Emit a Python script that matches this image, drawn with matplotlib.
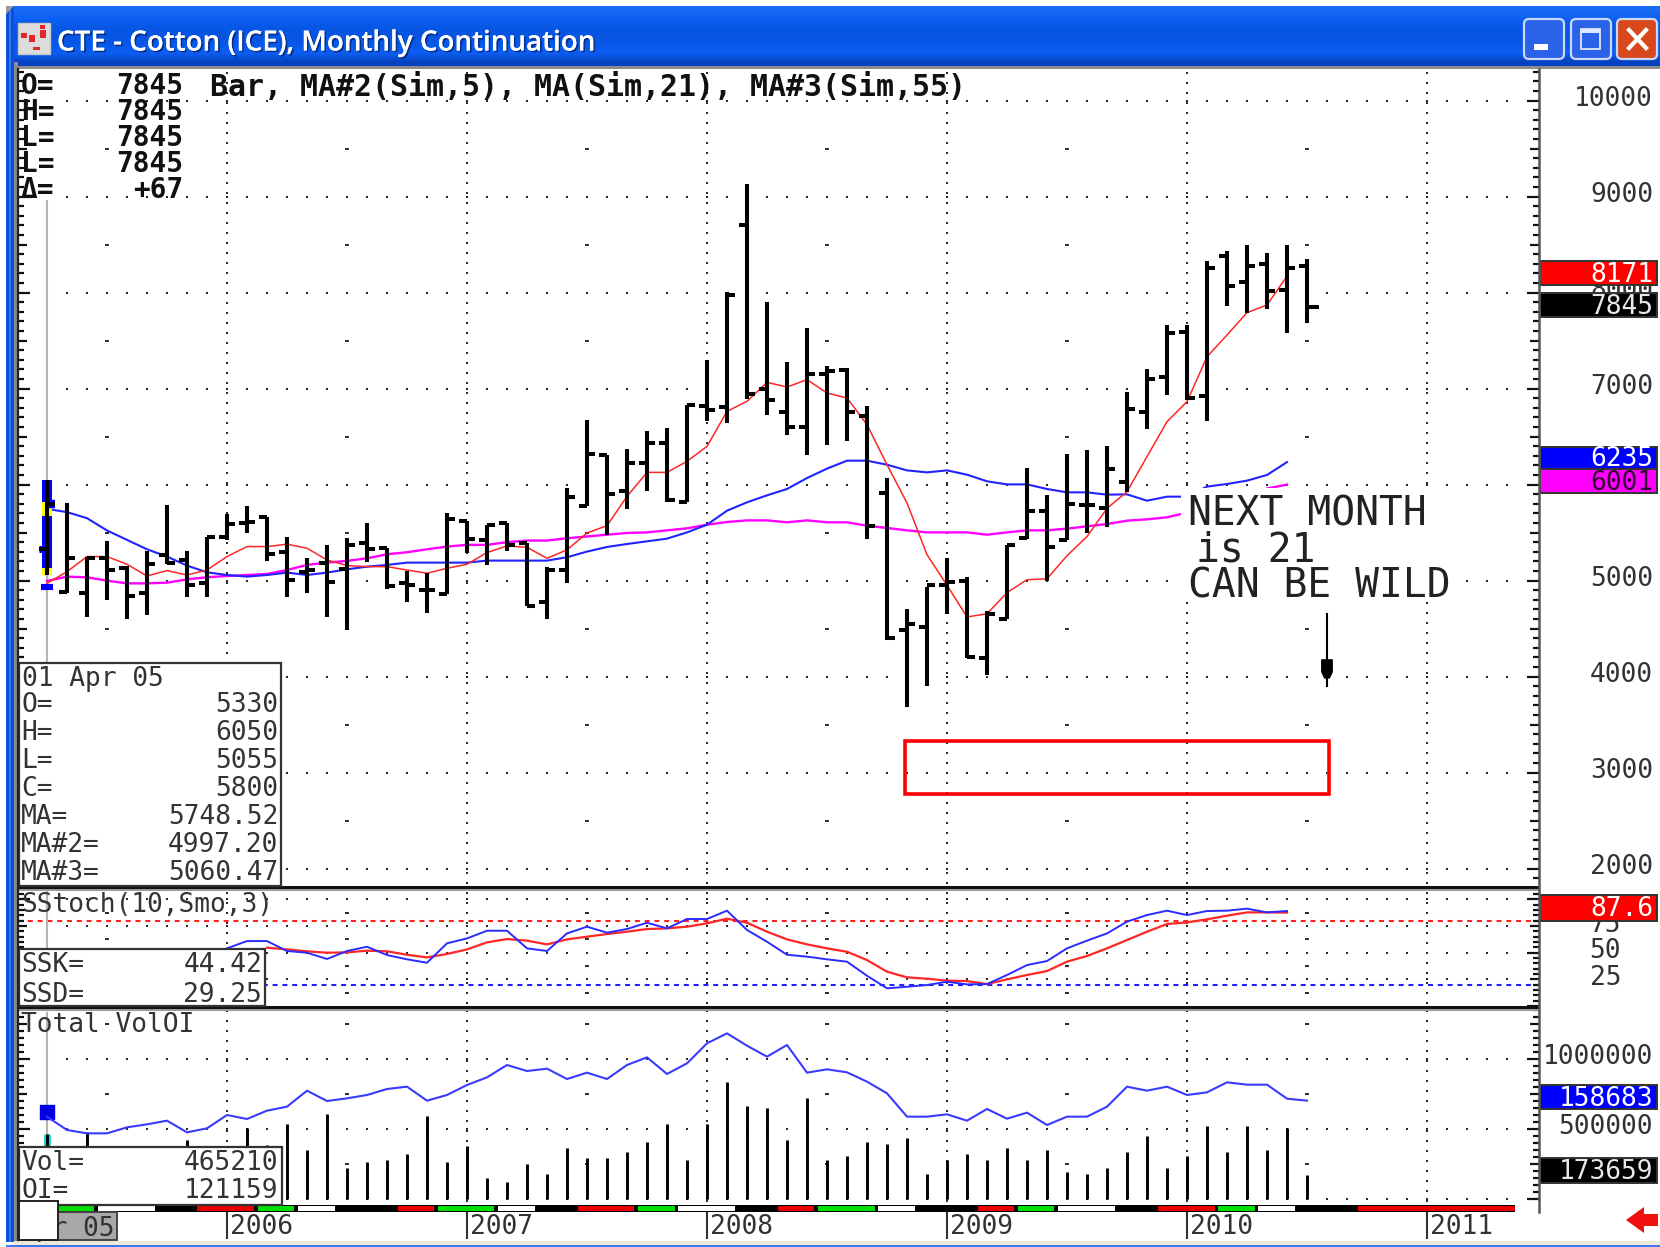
import numpy as np
import matplotlib
matplotlib.use("Agg")
import matplotlib.pyplot as plt
import matplotlib.patheffects as pe
from matplotlib.patches import Rectangle, Polygon, FancyBboxPatch

W, H = 1660, 1247
MONO = "DejaVu Sans Mono"
FS = 18.9

# ---------- data ----------
opens = [5330,4880,4868,5233,5130,4868,5268,5216,4972,5450,5600,5662,5303,5094,5181,5122,
         5390,5338,4972,4902,4861,5624,5425,5600,5397,4780,5111,5781,6312,5931,6222,6431,
         5823,6823,6809,8701,6997,6760,6597,7156,7191,6719,5913,4490,4520,4960,5000,4190,
         4600,5444,5722,5427,5785,5757,6031,6760,7125,7594,6924,8382,8115,8299,8028,8278]
highs = [6050,5808,5250,5418,5157,5314,5790,5314,5453,5697,5773,5662,5453,5233,5373,5443,
         5600,5338,5104,5077,5704,5624,5582,5600,5397,5139,5965,6670,6312,6375,6562,6587,
         6833,7295,8003,9132,7903,7278,7628,7233,7212,6816,6069,4710,4930,5240,5040,4680,
         5370,6174,5896,6319,6358,6406,6962,7208,7663,7663,8333,8437,8500,8417,8500,8351]
lows  = [5055,4868,4617,4800,4596,4641,5170,4833,4833,5425,5495,5209,4833,4868,4617,4491,
         5198,4913,4780,4659,4857,5286,5164,5310,4739,4599,4972,5781,5479,5747,5937,5816,
         5816,6667,6642,6892,6726,6514,6309,6413,6451,5438,4379,3685,3905,4655,4190,4015,
         4600,5430,5000,5420,5497,5563,5927,6580,6931,6882,6663,7865,7792,7826,7576,7681]
closes= [5800,5240,5233,5110,4843,5174,5188,4955,5453,5592,5610,5279,5007,5111,4990,5373,
         5327,4944,4955,4902,5645,5432,5582,5373,4739,5111,5868,6323,5906,6222,6431,5844,
         6826,6781,7972,6944,6885,6597,7156,7181,6760,5573,4400,4545,4950,4985,4210,4650,
         5370,5722,5347,5802,5785,6160,6785,7097,7576,6906,8260,8069,8281,8017,8260,7847]

ma5 = [4972,5094,5251,5251,5171,5049,5105,5059,5111,5251,5355,5355,5380,5338,5216,5157,
       5146,5146,5111,5077,5129,5171,5293,5362,5348,5233,5321,5497,5573,5878,6128,6128,
       6243,6399,6764,6868,7066,7017,7094,6955,6903,6625,6208,5809,5271,4953,4622,4655,
       4875,5010,5020,5260,5460,5753,5927,6292,6656,6865,7333,7559,7792,7872,8171]
ma21 = [5748,5714,5651,5523,5425,5327,5251,5157,5087,5059,5042,5059,5084,5059,5084,5118,
        5146,5164,5188,5188,5188,5188,5209,5209,5209,5209,5244,5303,5351,5382,5410,5438,
        5503,5583,5729,5816,5889,5955,6069,6167,6250,6250,6208,6149,6128,6149,6104,6035,
        6003,6003,5955,5920,5920,5896,5899,5833,5875,5875,5980,6007,6042,6101,6235]
ma55 = [4997,5042,5035,5000,4972,4972,4979,5014,5035,5049,5059,5070,5111,5164,5188,5206,
        5233,5275,5296,5327,5355,5373,5373,5401,5418,5418,5442,5460,5479,5497,5503,5524,
        5545,5583,5611,5628,5628,5608,5628,5608,5608,5573,5549,5524,5503,5503,5503,5479,
        5503,5524,5524,5542,5566,5590,5625,5639,5660,5708,5760,5820,5890,5960,6001]

ssk = [54.1,60.9,60.9,51.6,50,44.1,51.6,55.6,47.8,43.8,40.6,58.8,63.4,70.6,70.6,54.1,51.6,
       68.1,74.4,68.8,72.2,78.1,72.8,81.6,81.6,89.4,71.3,60.3,48.1,46.3,43.8,41.6,28.4,16.6,
       18.1,19.7,22.8,20.3,20.6,29.1,38.4,42.2,54.1,61.3,68.1,79.1,85.3,89.4,85.3,89.1,89.4,
       91.3,87.8,89.1]
ssd = [54.7,53.1,51.3,50,50.3,51.9,51.3,48.1,45.6,48.8,53.1,59.7,62.8,61.3,57.8,62.5,65,67.5,
       69.7,72.2,72.8,74.4,77.5,81.9,78.1,69.7,62.5,57.8,54.1,50.9,43.1,32.2,26.9,25.6,23.8,
       23.4,20.6,25,29.1,32.8,41.6,46.9,54.1,61.9,69.7,76.9,78.4,81.3,84.7,87.8,87.8,87.6]
SSK_START, SSD_START = 9, 11
STOCH_HIGH, STOCH_LOW = 80, 20

volume = [465210,280000,476200,300000,260000,240000,330000,421400,300000,350000,504800,385700,
          533300,350000,604800,219000,261900,278600,321400,592900,261900,378600,147600,119000,
          250000,178600,366700,295200,295200,333300,404800,533300,278600,533300,833400,664300,
          647600,421400,719100,278600,307100,404800,392900,433300,178600,278600,321400,278600,
          366700,278600,350000,190500,178600,219000,333300,450000,219000,307100,521400,333300,
          521400,350000,504800,173659]
open_int = [588100,492900,469000,469000,511900,533300,559500,476200,504800,600000,571400,630900,
            659500,773800,700000,719000,742900,785700,802400,702400,742900,814300,869000,957100,
            914300,931000,857100,902400,857100,957100,1011900,892900,969000,1111900,1183300,
            1095200,1016700,1100000,902400,926200,904800,838100,754800,588100,588100,604800,
            559500,642900,573800,616700,528600,588100,588100,659500,802400,773800,802400,742900,
            761900,833300,816700,816700,716700,702400]

year_labels = ["2006","2007","2008","2009","2010","2011"]
year_index = [9,21,33,45,57,69]
price_ticks = [10000,9000,8000,7000,6000,5000,4000,3000,2000]
stoch_ticks = [75,50,25]
vol_ticks = [1000000,500000]

info_rows = [("O=","5330"),("H=","6050"),("L=","5055"),("C=","5800"),
             ("MA=","5748.52"),("MA#2=","4997.20"),("MA#3=","5060.47")]
top_rows = [("O=","7845"),("H=","7845"),("L=","7845"),("L=","7845"),("Δ=","+67")]
note_lines = ["NEXT MONTH","is 21","CAN BE WILD"]

idx = np.arange(len(opens))

# ---------- layout helpers ----------
fig = plt.figure(figsize=(W/100, H/100), dpi=100, facecolor="white")

def axes_px(x0, y0, x1, y1, z, **kw):
    return fig.add_axes([x0/W, 1-y1/H, (x1-x0)/W, (y1-y0)/H], zorder=z, **kw)

bg = axes_px(0, 0, W, H, 0); bg.set_xlim(0, W); bg.set_ylim(H, 0); bg.axis("off")
fg = axes_px(0, 0, W, H, 5); fg.set_xlim(0, W); fg.set_ylim(H, 0); fg.axis("off"); fg.patch.set_alpha(0)

PX_L, PX_R = 18, 1539
XLIM = ((PX_L-47)/20, (PX_R-47)/20)
ax = axes_px(PX_L, 69, PX_R, 887, 1)
st = axes_px(PX_L, 887, PX_R, 1007, 1)
vo = axes_px(PX_L, 1007, PX_R, 1205, 1)
ax.set_ylim(1809, 10330)
st.set_ylim(-0.9, 111.6)
vo.set_ylim(-42857, 1371429)
for a in (ax, st, vo):
    a.set_xlim(*XLIM)
    a.set_xticks([]); a.set_yticks([])
    for s in a.spines.values():
        s.set_visible(False)

# ---------- window chrome ----------
grad = np.array([[0.10,0.42,0.96],[0.05,0.38,0.95],[0.03,0.34,0.90],[0.03,0.33,0.88],
                 [0.03,0.35,0.92],[0.05,0.37,0.95],[0.02,0.26,0.76]])[:, None, :]
bg.imshow(grad, extent=(6, W, 66, 6), aspect="auto", interpolation="bilinear", zorder=1)
bg.set_xlim(0, W); bg.set_ylim(H, 0)
bg.add_patch(Rectangle((6, 6), 8, 1236, fc="#0b50d8", ec="none", zorder=1))
bg.add_patch(Rectangle((9, 6), 2, 1236, fc="#2f78ee", ec="none", zorder=1))
bg.add_patch(Rectangle((14, 62), 4, 1180, fc="#8c8c8c", ec="none", zorder=1))
bg.add_patch(Rectangle((14, 66), W-14, 3, fc="#8c8c8c", ec="none", zorder=2))
bg.add_patch(Rectangle((14, 1241), W-14, 4, fc="#ece9d8", ec="none", zorder=1))
bg.add_patch(Rectangle((6, 1245), W-6, 2, fc="#3a78f0", ec="none", zorder=1))
bg.add_patch(Polygon([(6, 6), (14, 6), (6, 14)], fc="#9a9a9a", ec="none", zorder=3))
# icon
bg.add_patch(Rectangle((18, 23), 32, 31, fc="#dcdcdc", ec="#c8c8c8", zorder=3))
for (ix, iy, iw, ih) in [(21,33,6,5),(29,35,6,7),(40,30,6,8),(33,47,7,3),(40,25,5,4)]:
    bg.add_patch(Rectangle((ix, iy), iw, ih, fc="#e02828", ec="none", zorder=4))
bg.text(57, 43, "CTE - Cotton (ICE), Monthly Continuation", color="white", fontsize=20,
        family="Open Sans", weight="semibold", va="center", ha="left", zorder=5,
        path_effects=[pe.withSimplePatchShadow(offset=(1.2, -1.2), shadow_rgbFace="#062a80", alpha=0.9), pe.Normal()])
# window buttons
for (bx, col) in [(1521, "#2a62e8"), (1568, "#2a62e8"), (1614, "#d8481c")]:
    bg.add_patch(FancyBboxPatch((bx+3, 19), 40, 40, boxstyle="round,pad=0,rounding_size=5",
                                mutation_scale=1, fc=col, ec="#c9d8f8", lw=1.6, zorder=4))
bg.add_patch(Rectangle((1534, 44), 14, 6, fc="white", ec="none", zorder=5))
bg.add_patch(Rectangle((1581, 29), 19, 20, fc="none", ec="#dfe8ff", lw=1.3, zorder=5))
bg.add_patch(Rectangle((1581, 29), 19, 4, fc="#dfe8ff", ec="none", zorder=5))
bg.plot([1629, 1646], [30, 48], color="white", lw=3, zorder=5)
bg.plot([1646, 1629], [30, 48], color="white", lw=3, zorder=5)

# ---------- dotted grid ----------
DOT = dict(marker="s", s=2.0, linewidths=0, color="#2a2a2a", zorder=1)
DASH = dict(marker="_", s=11, linewidths=1.4, color="#2a2a2a", zorder=1)
month_dots = np.arange(1, 74)
half_year = np.array([3, 15, 27, 39, 51, 63])

def grid(a, rows, half_rows, px_per_unit):
    for r in rows:
        a.scatter(month_dots, np.full(month_dots.size, r), **DOT)
    for r in half_rows:
        a.scatter(half_year, np.full(half_year.size, r), **DASH)
    lo, hi = a.get_ylim()
    ys = np.arange(lo + 4/px_per_unit, hi - 4/px_per_unit, 10/px_per_unit)
    for yi in year_index:
        a.scatter(np.full(ys.size, yi), ys, **DOT)

grid(ax, price_ticks, [9500,8500,7500,6500,5500,4500,3500,2500], 0.096)
grid(st, [100,75,50,25], [87.5,62.5,37.5,12.5], 1.0667)
grid(vo, [1000000,500000,0], [1250000,750000,250000], 70/500000)

# ---------- axis ticks on both sides ----------
def side_ticks(a, step, mid, major, L=(6, 9, 12)):
    lo, hi = a.get_ylim()
    width = PX_R - PX_L
    for v in np.arange(np.ceil(lo/step)*step, hi, step):
        ln = L[2] if v % major == 0 else (L[1] if v % mid == 0 else L[0])
        a.plot([0, ln/width], [v, v], transform=a.get_yaxis_transform(), color="#111", lw=1.6,
               solid_capstyle="butt", zorder=6)
        a.plot([1-ln/width, 1], [v, v], transform=a.get_yaxis_transform(), color="#111", lw=1.6,
               solid_capstyle="butt", zorder=6)

side_ticks(ax, 100, 500, 1000)
side_ticks(st, 5, 25, 50)
side_ticks(vo, 50000, 250000, 500000)

# ---------- price panel ----------
ax.plot(np.full(2, 0), [1809, 8950], color="#b4b4b4", lw=1.5, zorder=2)
ax.plot(np.arange(len(ma55)), ma55, color="#ff00ff", lw=1.7, zorder=3)
ax.plot(np.arange(len(ma21)), ma21, color="#2222ff", lw=1.5, zorder=3)
ax.plot(np.arange(len(ma5)), ma5, color="#ff2626", lw=1.1, zorder=3)

# selected first bar: highlighted with blue and yellow
ax.vlines(0, lows[0], highs[0], color="#0000ff", lw=7.2, capstyle="butt", zorder=4)
ax.vlines([0, 0], [5670, 5060], [5820, 5133], color="#ffff00", lw=7.2, capstyle="butt", zorder=4)
ax.hlines(closes[0], 0, 0.42, color="#0000ff", lw=6, capstyle="butt", zorder=4)
ax.hlines(opens[0], -0.38, 0, color="#0000ff", lw=5, capstyle="butt", zorder=4)
ax.hlines(ma55[0]-65, -0.32, 0.32, color="#0000ff", lw=4.4, capstyle="butt", zorder=4)

O, Hi, Lo, C = map(np.array, (opens, highs, lows, closes))
BAR = dict(color="black", lw=2.9, capstyle="butt", zorder=5)
ax.vlines(idx, Lo, Hi, **BAR)
ax.hlines(O, idx-0.4, idx, **BAR)
close_len = np.where(idx == idx[-1], 0.62, 0.4)
ax.hlines(C, idx, idx+close_len, **BAR)

# red zone and arrow, in price units
ax.add_patch(Rectangle((42.9, 2778), 21.2, 552, fc="none", ec="#ff0000", lw=2.6, zorder=4))
ax.plot([64, 64], [3903, 4650], color="black", lw=1.5, zorder=4)
ax.fill([63.74, 64.26, 64.26, 64.12, 63.88, 63.74], [4175, 4175, 4050, 3987, 3987, 4050], color="black", zorder=4)

# ---------- stochastic ----------
st.plot([XLIM[0], XLIM[1]], [STOCH_HIGH]*2, color="#ff2020", lw=1.5, ls=(0, (2.4, 2.3)), zorder=2)
st.plot([XLIM[0], XLIM[1]], [STOCH_LOW]*2, color="#2020ff", lw=1.5, ls=(0, (2.4, 2.3)), zorder=2)
st.plot(np.arange(SSD_START, SSD_START+len(ssd)), ssd, color="#ff2626", lw=1.6, zorder=3)
st.plot(np.arange(SSK_START, SSK_START+len(ssk)), ssk, color="#2b2bff", lw=1.4, zorder=3)
st.plot([0, 0], [-0.9, 111.6], color="#b4b4b4", lw=1.5, zorder=2)

# ---------- volume & OI ----------
vo.plot([0, 0], [-42857, 1330000], color="#b4b4b4", lw=1.5, zorder=2)
vo.vlines(0, 0, volume[0], color="#20d0d0", lw=5, capstyle="butt", zorder=3)
vo.vlines(idx, 0, volume, color="black", lw=2.1, capstyle="butt", zorder=4)
vo.plot(idx, open_int, color="#3a3aff", lw=1.5, zorder=5)
vo.scatter([0], [open_int[0]+30000], marker="s", s=95, color="#0000e0", zorder=4)

# ---------- right hand labels ----------
RIGHT_LABEL = (1653-PX_L)/(PX_R-PX_L)
LBL = dict(family=MONO, fontsize=FS, color="#333333", ha="right", va="center", annotation_clip=False)
for v in price_ticks:
    ax.annotate(str(v), xy=(RIGHT_LABEL, v), xycoords=ax.get_yaxis_transform(), xytext=(0, 1.2),
                textcoords="offset points", **LBL)
for v in stoch_ticks:
    st.annotate(str(v), xy=((1621-PX_L)/(PX_R-PX_L), v), xycoords=st.get_yaxis_transform(), xytext=(0, 1),
                textcoords="offset points", **LBL)
for v in vol_ticks:
    vo.annotate(str(v), xy=(RIGHT_LABEL, v), xycoords=vo.get_yaxis_transform(), xytext=(0, 1.2),
                textcoords="offset points", **LBL)

# ---------- year axis ----------
for lab, yi in zip(year_labels, year_index):
    vo.plot([yi, yi], [-0.04, -0.165], transform=vo.get_xaxis_transform(), color="#333", lw=1.5, clip_on=False, zorder=6)
    vo.annotate(lab, xy=(yi, -0.101), xycoords=vo.get_xaxis_transform(), xytext=(2, -1.6), textcoords="offset points",
                family=MONO, fontsize=FS, color="#333333", ha="left", va="center", annotation_clip=False)

# ---------- foreground overlays (pixels) ----------
TXT = dict(family=MONO, fontsize=FS, color="#333333", va="center")
DY = 2.5

# panel separators
fg.add_patch(Rectangle((18, 885.5), 1521, 3.5, fc="#111", ec="none"))
fg.add_patch(Rectangle((18, 889), 1521, 1.6, fc="#9a9a9a", ec="none"))
fg.add_patch(Rectangle((18, 1005.5), 1521, 3.5, fc="#111", ec="none"))
fg.add_patch(Rectangle((18, 1009), 1521, 1.6, fc="#9a9a9a", ec="none"))
fg.plot([1539, 1539], [69, 1212], color="#555", lw=1.8)
fg.plot([18, 18], [69, 1240], color="#222", lw=1.6)

# time strip
fg.add_patch(Rectangle((18, 1205), 1497, 7, fc="black", ec="none"))
strips = [("#00e000",59,94),("white",98,155),("#e80000",197,254),("#00e000",258,294),("white",298,335),
          ("#e80000",398,434),("#00e000",438,494),("white",498,535),("#e80000",578,634),("#00e000",638,675),
          ("white",678,735),("#e80000",778,814),("#00e000",818,875),("white",878,915),("#e80000",978,1014),
          ("#00e000",1018,1054),("white",1058,1115),("#e80000",1158,1215),("#00e000",1218,1255),("white",1258,1295),
          ("#e80000",1358,1515)]
for col, x0, x1 in strips:
    fg.add_patch(Rectangle((x0, 1206), x1-x0, 5, fc=col, ec="none"))

# first-date label under the white button
fg.add_patch(Rectangle((20, 1212), 97, 28, fc="#a8a8a8", ec="#444", lw=1.4))
fg.text(114, 1226+DY, "Apr 05", ha="right", **TXT)
fg.add_patch(Rectangle((19, 1201), 39, 39, fc="white", ec="#222", lw=1.4, zorder=4))
# red arrow
fg.add_patch(Polygon([(1626,1220),(1644,1207),(1644,1214),(1658,1214),(1658,1226),(1644,1226),(1644,1233)],
                     fc="#f01010", ec="none"))

# top-left readout and study title
for (lab, val), y in zip(top_rows, [84, 109, 135, 161, 187]):
    fg.text(21, y+DY, lab, family=MONO, fontsize=20, weight="bold", color="#111", va="center", ha="left")
    fg.text(183, y+DY, val, family=MONO, fontsize=20, weight="bold", color="#111", va="center", ha="right")
fg.text(210, 85+DY, "Bar, MA#2(Sim,5), MA(Sim,21), MA#3(Sim,55)", family=MONO, fontsize=21.5,
        weight="bold", color="#111", va="center", ha="left")

# data window
fg.add_patch(Rectangle((19, 663), 262, 223, fc="white", ec="#333", lw=1.6))
fg.text(22, 677+DY, "01 Apr 05", ha="left", **TXT)
for (lab, val), y in zip(info_rows, [703, 731, 758, 787, 815, 843, 870]):
    fg.text(21, y+DY, lab, ha="left", **TXT)
    fg.text(278, y+DY, val, ha="right", **TXT)

# stochastic readout
fg.text(21, 903+DY, "SStoch(10,Smo,3)", ha="left", **TXT)
fg.add_patch(Rectangle((19, 949), 246, 57, fc="white", ec="#333", lw=1.6))
fg.text(21, 963+DY, "SSK=", ha="left", **TXT); fg.text(262, 963+DY, "44.42", ha="right", **TXT)
fg.text(21, 992+DY, "SSD=", ha="left", **TXT); fg.text(262, 992+DY, "29.25", ha="right", **TXT)

# volume readout
fg.text(21, 1023+DY, "Total VolOI", ha="left", **TXT)
fg.add_patch(Rectangle((19, 1147), 263, 58, fc="white", ec="#333", lw=1.6))
fg.text(21, 1161+DY, "Vol=", ha="left", **TXT); fg.text(278, 1161+DY, "465210", ha="right", **TXT)
fg.text(21, 1189+DY, "OI=", ha="left", **TXT); fg.text(278, 1189+DY, "121159", ha="right", **TXT)

# handwritten note with its white backing
fg.add_patch(Rectangle((1181, 487.5), 271, 114, fc="white", ec="none"))
for line, (x, y) in zip(note_lines, [(1188, 515), (1196, 551), (1188, 587)]):
    fg.text(x, y, line, family=MONO, fontsize=28.5, color="#222222", va="center", ha="left")

# price / value tags
tags = [("8171", "#ff0000", "white", 261, 285), ("7845", "black", "#e8e8e8", 293, 317),
        ("6235", "#0000ff", "white", 447, 469), ("6001", "#ff00ff", "#300030", 469, 493),
        ("87.6", "#ff0000", "white", 895, 921), ("158683", "#0000ff", "white", 1085, 1109),
        ("173659", "black", "#e8e8e8", 1158, 1183)]
for s, fc, tc, y0, y1 in tags:
    fg.add_patch(Rectangle((1540, y0), 117, y1-y0, fc=fc, ec="#333", lw=1.4))
    fg.text(1653, (y0+y1)/2+1.5, s, family=MONO, fontsize=FS, color=tc, ha="right", va="center")

fig.savefig("out.png", dpi=100, facecolor="white")
